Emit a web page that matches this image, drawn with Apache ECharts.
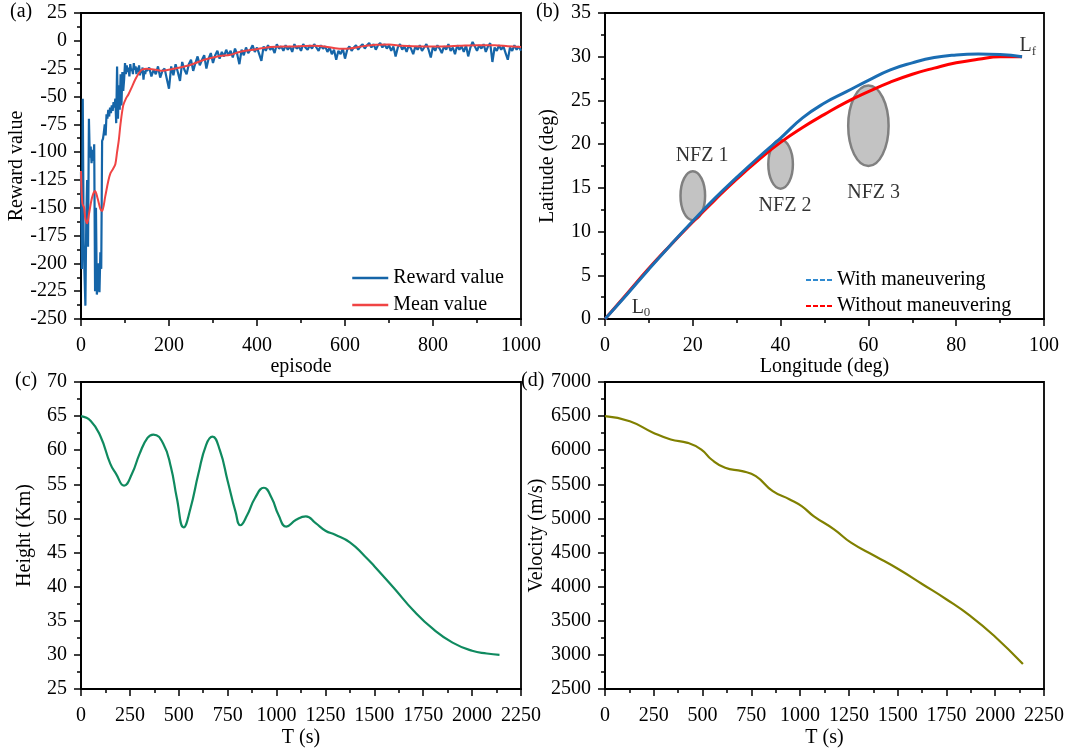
<!DOCTYPE html>
<html lang="en">
<head>
    <meta charset="UTF-8">
    <title>Trajectory results</title>
    <script type="text/javascript" src="https://cdn.jsdelivr.net/npm/echarts@6/dist/echarts.min.js"></script>
    <style>
        html, body { margin: 0; padding: 0; background: #fff; }
    </style>
</head>
<body>
<div id="main" style="width: 1068px; height: 753px;"></div>
<script type="text/javascript">
    // (a) reward, early episodes (dense part) [episode, value]
    var rewardEarly = [
        [0, -118], [2, -205], [4, -52], [6, -180], [8, -210], [10, -238], [12, -160], [14, -125],
        [16, -185], [18, -70], [20, -105], [22, -95], [24, -110], [26, -98], [28, -108], [30, -93],
        [32, -225], [34, -150], [36, -228], [38, -220], [40, -200], [42, -226], [44, -190], [46, -205],
        [48, -90], [50, -88], [52, -82], [54, -75], [56, -85], [58, -66], [60, -70], [62, -62],
        [64, -68], [66, -60], [68, -65], [70, -58], [72, -63], [74, -55], [76, -60], [78, -52],
        [80, -74], [82, -23], [84, -70], [86, -40], [88, -62], [90, -30], [92, -58], [94, -28],
        [96, -45], [98, -35], [100, -20], [102, -30], [104, -22], [106, -28], [108, -24], [110, -32],
        [112, -21], [114, -27], [116, -25], [118, -30], [120, -20], [122, -26], [124, -23], [126, -30],
        [128, -24], [130, -28], [132, -22], [134, -31], [136, -26], [138, -29], [140, -24], [142, -35],
        [144, -27], [146, -30], [148, -25]
    ];
    // (a) reward from episode 150 on, one value every 5 episodes
    var rewardStart = 150;
    var rewardStep = 5;
    var rewardLate = [
        -27, -24, -32, -26, -30, -23, -33, -27, -25, -34,
        -43, -23, -31, -21, -28, -36, -19, -26, -30, -21,
        -17, -27, -20, -14, -22, -17, -13, -25, -16, -11,
        -20, -13, -9, -16, -10, -14, -8, -13, -9, -15,
        -7, -12, -21, -8, -13, -6, -11, -8, -4, -10,
        -6, -12, -18, -5, -9, -4, -8, -6, -11, -3,
        -7, -5, -9, -4, -8, -5, -10, -3, -7, -5,
        -9, -3, -6, -8, -4, -7, -3, -6, -9, -4,
        -7, -5, -10, -6, -12, -8, -17, -9, -12, -7,
        -16, -8, -5, -9, -6, -4, -8, -5, -3, -7,
        -4, -2, -6, -3, -8, -4, -2, -6, -3, -7,
        -4, -9, -5, -14, -6, -3, -8, -5, -10, -4,
        -7, -12, -5, -8, -4, -9, -6, -3, -8, -15,
        -5, -9, -4, -7, -11, -5, -8, -3, -9, -6,
        -12, -4, -8, -5, -10, -4, -14, -6, -1, -5,
        -9, -4, -7, -3, -10, -5, -2, -19, -6, -9,
        -4, -8, -5, -11, -17, -6, -9, -4, -8, -5,
        -9
    ];
    // (a) moving mean [episode, value]
    var meanValues = [
        [0, -117], [3, -146], [7, -150], [10, -160], [14, -164], [18, -156],
        [25, -141], [32, -135], [38, -142], [44, -151], [48, -153], [55, -140],
        [62, -126], [67, -119], [73, -115], [78, -111], [82, -100], [86, -89],
        [90, -74], [96, -58], [102, -52], [108, -48], [115, -42], [123, -35],
        [130, -30], [138, -26], [150, -25], [170, -26], [185, -27], [205, -25.6],
        [225, -24], [250, -21.5], [280, -17], [310, -14], [340, -12.5], [360, -10],
        [400, -7.5], [430, -5.5], [480, -5], [530, -4.5], [560, -5.5], [590, -7.2],
        [610, -7], [640, -5], [670, -3.5], [700, -3.3], [730, -4.5], [780, -5],
        [820, -5], [860, -4.5], [900, -4], [940, -4], [970, -4.8], [1000, -5.5]
    ];

    // (b) ground tracks [longitude, latitude]
    var withManeuver = [
        [0, 0], [5, 2.8], [10, 5.7], [15, 8.5], [20, 11.2], [25, 13.8], [30, 16.2],
        [35, 18.5], [40, 20.7], [45, 23.0], [50, 24.7], [55, 26.0], [60, 27.3],
        [65, 28.5], [70, 29.3], [75, 29.9], [80, 30.2], [85, 30.3], [90, 30.25], [95, 30.0]
    ];
    var withoutManeuver = [
        [0, 0], [5, 2.9], [10, 5.8], [15, 8.5], [20, 11.1], [25, 13.6], [30, 16.0],
        [35, 18.2], [40, 20.2], [45, 21.9], [50, 23.4], [55, 24.8], [60, 26.0],
        [65, 27.1], [70, 28.0], [75, 28.7], [80, 29.3], [85, 29.7], [90, 30.0], [95, 30.0]
    ];
    // no-fly zones [lon, lat, radius deg]
    var nfzZones = [[20, 14.1, 2.8], [40, 17.7, 2.8], [60, 22.1, 4.6]];
    var nfzLabels = [[22.1, 18.7, 'NFZ 1'], [41, 12.9, 'NFZ 2'], [61.2, 14.4, 'NFZ 3']];
    var endLabels = [[8.2, 1.3, '0'], [96.3, 31.2, 'f']];

    // (c) height and (d) velocity vs time
    var heightData = [
        [0, 65.0], [50, 64.3], [100, 62.0], [150, 58.0], [180, 56.5], [220, 54.8],
        [260, 56.5], [300, 59.5], [340, 61.8], [370, 62.3], [420, 61.0], [460, 57.5],
        [490, 53.0], [525, 48.7], [560, 51.5], [600, 56.5], [640, 60.8], [672, 62.0],
        [710, 60.0], [750, 55.5], [790, 51.0], [815, 49.0], [850, 50.5], [890, 53.0],
        [935, 54.5], [975, 53.0], [1010, 50.5], [1050, 48.8], [1100, 49.8], [1150, 50.3],
        [1200, 49.3], [1250, 48.2], [1300, 47.6], [1375, 46.5], [1450, 44.5], [1500, 43.0],
        [1600, 39.8], [1700, 36.5], [1800, 33.8], [1900, 31.8], [2000, 30.6], [2075, 30.2],
        [2140, 30.0]
    ];
    var velocityData = [
        [0, 6500], [127, 6425], [249, 6254], [337, 6157], [424, 6108], [494, 6010],
        [546, 5864], [616, 5742], [703, 5693], [773, 5620], [860, 5400], [947, 5279],
        [1008, 5181], [1069, 5035], [1174, 4840], [1261, 4645], [1383, 4450], [1505, 4255],
        [1627, 4036], [1749, 3816], [1872, 3572], [1994, 3280], [2142, 2865]
    ];

    var serif = 'Liberation Serif';
    var rewardSeries = rewardEarly.concat(rewardLate.map(function (v, i) {
        return [rewardStart + i * rewardStep, v];
    }));

    function makeAxis(idx, min, max, interval, name, gap, isY) {
        return {
            type: 'value',
            gridIndex: idx,
            min: min,
            max: max,
            interval: interval,
            name: name,
            nameLocation: 'middle',
            nameGap: gap,
            nameTextStyle: {fontFamily: serif, fontSize: 20, color: '#000'},
            axisLine: {show: true, onZero: false, lineStyle: {color: '#000', width: 1.8}},
            axisTick: {show: true, inside: false, length: 7, lineStyle: {color: '#000', width: 1.5}},
            minorTick: {show: true, splitNumber: 2, length: 4, lineStyle: {color: '#000', width: 1.5}},
            axisLabel: {
                fontFamily: serif, fontSize: 20, color: '#000', margin: isY ? 14 : 17,
                showMinLabel: true, showMaxLabel: true,
                formatter: function (v) { return String(v); }
            },
            splitLine: {show: false}
        };
    }

    var gridBase = {show: true, borderColor: '#000', borderWidth: 1.8, backgroundColor: 'transparent'};
    var legendText = {fontFamily: serif, fontSize: 20, color: '#000'};

    option = {
        backgroundColor: '#fff',
        animation: false,
        grid: [
            Object.assign({left: 81, top: 13, width: 440, height: 306}, gridBase),
            Object.assign({left: 605, top: 13, width: 439, height: 306}, gridBase),
            Object.assign({left: 81, top: 382, width: 440, height: 307}, gridBase),
            Object.assign({left: 605, top: 382, width: 439, height: 307}, gridBase)
        ],
        xAxis: [
            makeAxis(0, 0, 1000, 200, 'episode', 37, false),
            makeAxis(1, 0, 100, 20, 'Longitude (deg)', 37, false),
            makeAxis(2, 0, 2250, 250, 'T (s)', 39, false),
            makeAxis(3, 0, 2250, 250, 'T (s)', 39, false)
        ],
        yAxis: [
            makeAxis(0, -250, 25, 25, 'Reward value', 52, true),
            makeAxis(1, 0, 35, 5, 'Latitude (deg)', 47, true),
            makeAxis(2, 25, 70, 5, 'Height (Km)', 46, true),
            makeAxis(3, 2500, 7000, 500, 'Velocity (m/s)', 47, true)
        ],
        legend: [
            {
                data: [
                    {name: 'Reward value', lineStyle: {color: '#1565a8', width: 2.5}},
                    {name: 'Mean value', lineStyle: {color: '#f04444', width: 2.5}}
                ],
                orient: 'vertical',
                left: 351, top: 268, padding: 0,
                itemWidth: 36, itemHeight: 14, itemGap: 7,
                itemStyle: {opacity: 0},
                textStyle: legendText
            },
            {
                data: [
                    {name: 'With maneuvering', lineStyle: {type: [5, 2], color: '#2f8ad0', width: 2}},
                    {name: 'Without maneuvering', lineStyle: {type: [5, 2], color: '#ff0000', width: 2}}
                ],
                orient: 'vertical',
                left: 805, top: 270, padding: 0,
                itemWidth: 26, itemHeight: 14, itemGap: 6,
                itemStyle: {opacity: 0},
                textStyle: legendText
            }
        ],
        graphic: [
            {type: 'text', left: 10, top: 2, style: {text: '(a)', font: '20px "Liberation Serif"', fill: '#000'}},
            {type: 'text', left: 536, top: 2, style: {text: '(b)', font: '20px "Liberation Serif"', fill: '#000'}},
            {type: 'text', left: 15, top: 371, style: {text: '(c)', font: '20px "Liberation Serif"', fill: '#000'}},
            {type: 'text', left: 521, top: 371, style: {text: '(d)', font: '20px "Liberation Serif"', fill: '#000'}}
        ],
        series: [
            {
                name: 'Reward value', type: 'line', xAxisIndex: 0, yAxisIndex: 0,
                data: rewardSeries, symbol: 'none',
                lineStyle: {color: '#1565a8', width: 2.2}, itemStyle: {color: '#1565a8'}
            },
            {
                name: 'Mean value', type: 'line', xAxisIndex: 0, yAxisIndex: 0,
                data: meanValues, symbol: 'none', smooth: 0.3,
                lineStyle: {color: '#f04444', width: 2}, itemStyle: {color: '#f04444'}
            },
            {
                name: 'NFZ', type: 'custom', xAxisIndex: 1, yAxisIndex: 1, z: 1,
                data: nfzZones,
                renderItem: function (params, api) {
                    var c = api.coord([api.value(0), api.value(1)]);
                    var s = api.size([api.value(2), api.value(2)]);
                    return {
                        type: 'ellipse',
                        shape: {cx: c[0], cy: c[1], rx: s[0], ry: s[1]},
                        style: {fill: '#c3c3c3', stroke: '#808080', lineWidth: 2.5}
                    };
                }
            },
            {
                name: 'Without maneuvering', type: 'line', xAxisIndex: 1, yAxisIndex: 1, z: 3,
                data: withoutManeuver, symbol: 'none', smooth: true,
                lineStyle: {color: '#ff0000', width: 3}, itemStyle: {color: '#ff0000'}
            },
            {
                name: 'With maneuvering', type: 'line', xAxisIndex: 1, yAxisIndex: 1, z: 4,
                data: withManeuver, symbol: 'none', smooth: true,
                lineStyle: {color: '#1a6db3', width: 3}, itemStyle: {color: '#1a6db3'}
            },
            {
                name: 'nfzText', type: 'scatter', xAxisIndex: 1, yAxisIndex: 1, z: 5,
                data: nfzLabels, symbolSize: 0, silent: true,
                label: {
                    show: true, position: 'inside',
                    formatter: function (p) { return p.value[2]; },
                    fontFamily: serif, fontSize: 20, color: '#000'
                }
            },
            {
                name: 'endText', type: 'scatter', xAxisIndex: 1, yAxisIndex: 1, z: 5,
                data: endLabels, symbolSize: 0, silent: true,
                label: {
                    show: true, position: 'inside',
                    formatter: function (p) { return '{m|L}{s|' + p.value[2] + '}'; },
                    rich: {
                        m: {fontFamily: serif, fontSize: 20, color: '#000'},
                        s: {fontFamily: serif, fontSize: 13, color: '#000', padding: [10, 0, 0, 0]}
                    }
                }
            },
            {
                name: 'Height', type: 'line', xAxisIndex: 2, yAxisIndex: 2,
                data: heightData, symbol: 'none', smooth: true,
                lineStyle: {color: '#0f8a5f', width: 2.2}
            },
            {
                name: 'Velocity', type: 'line', xAxisIndex: 3, yAxisIndex: 3,
                data: velocityData, symbol: 'none', smooth: true,
                lineStyle: {color: '#808000', width: 2.2}
            }
        ]
    };

    var myChart = echarts.init(document.getElementById('main'), null, {renderer: 'canvas'});
    myChart.setOption(option);
</script>
</body>
</html>
